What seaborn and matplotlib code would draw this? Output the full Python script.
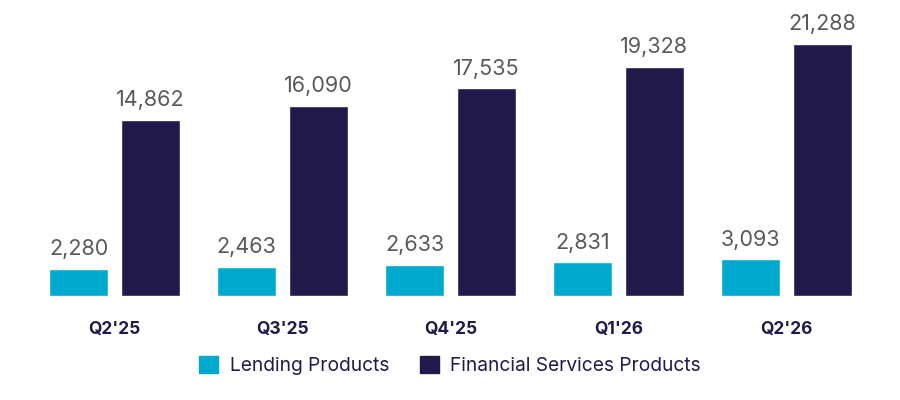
import seaborn as sns
import matplotlib.pyplot as plt
import pandas as pd

# Data
quarters = ["Q2'25", "Q3'25", "Q4'25", "Q1'26", "Q2'26"]
lending = [2280, 2463, 2633, 2831, 3093]
financial = [14862, 16090, 17535, 19328, 21288]
series_names = ["Lending Products", "Financial Services Products"]
colors = ["#00A9CE", "#211A4A"]

df = pd.DataFrame({
    "quarter": quarters * 2,
    "value": lending + financial,
    "series": [series_names[0]] * len(quarters) + [series_names[1]] * len(quarters),
})

sns.set_style("white")
plt.rcParams["font.family"] = ["Inter", "DejaVu Sans"]

fig = plt.figure(figsize=(9, 4), dpi=100)
ax = fig.add_axes([0, 0.26, 1, 0.715])

sns.barplot(data=df, x="quarter", y="value", hue="series", palette=colors,
            width=0.851, gap=0.175, saturation=1, ax=ax, legend=False)

for cont in ax.containers:
    ax.bar_label(cont, labels=[f"{v:,.0f}" for v in cont.datavalues],
                 padding=7, fontsize=15.5, color="#595959")

ax.set_xlim(-0.682, 4.676)
ax.set_ylim(0, 24160)
ax.set_xlabel("")
ax.set_ylabel("")
ax.set_yticks([])
ax.tick_params(axis="x", length=0, pad=18)
for lab in ax.get_xticklabels():
    lab.set_fontweight("bold")
    lab.set_fontsize(12.5)
    lab.set_color("#211A4A")
sns.despine(ax=ax, left=True, bottom=True)

handles = [plt.Rectangle((0, 0), 1, 1, color=c) for c in colors]
fig.legend(handles, series_names, loc="center", bbox_to_anchor=(0.5, 0.087),
           ncol=2, frameon=False, fontsize=13.8, handlelength=1.0, handleheight=1.0,
           handletextpad=0.6, columnspacing=1.6, labelcolor="#211A4A")

fig.savefig("out.png", dpi=100)
